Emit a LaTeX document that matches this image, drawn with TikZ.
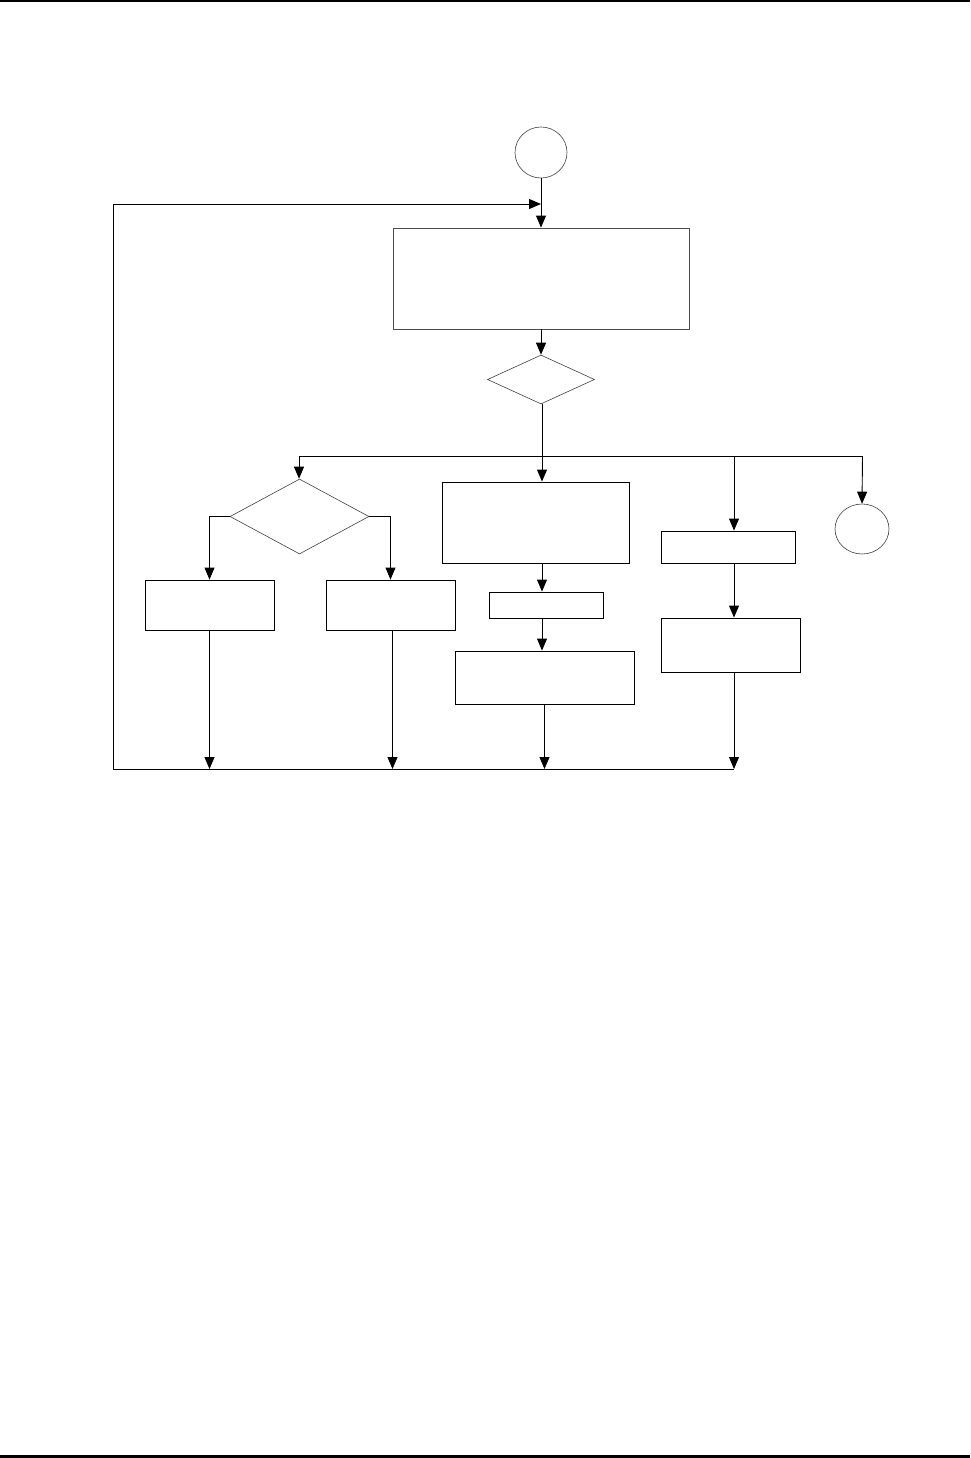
\documentclass[tikz,border=0pt]{standalone}
\usetikzlibrary{shapes.geometric,arrows.meta}
\begin{document}
\begin{tikzpicture}[x=1pt,y=-1pt,
  pbox/.style={draw=black,line width=0.9pt,rectangle,inner sep=0pt},
  gbox/.style={draw=black!70,line width=0.9pt,rectangle,inner sep=0pt},
  dia/.style={draw=black!75,line width=0.6pt,diamond,inner sep=0pt},
  term/.style={draw=black!75,line width=0.6pt,ellipse,inner sep=0pt},
  conn/.style={line width=0.9pt},
  arr/.style={conn,-{Triangle[length=12pt,width=10pt]}}]
\useasboundingbox (0,0) rectangle (970,1458);
\draw[line width=2pt] (0,1) -- (970,1);
\draw[line width=2.5pt] (0,1456.5) -- (970,1456.5);
% nodes
\node[term,minimum width=52pt,minimum height=51pt] (start) at (541,152.5) {};
\node[gbox,minimum width=296pt,minimum height=101pt] (big) at (541,278.5) {};
\node[dia,minimum width=107pt,minimum height=49pt] (d1) at (541,379.5) {};
\node[dia,minimum width=139pt,minimum height=75pt] (d2) at (299.5,516.5) {};
\node[pbox,minimum width=129pt,minimum height=50pt] (L1) at (209.5,605) {};
\node[pbox,minimum width=129pt,minimum height=50pt] (L2) at (390.5,605) {};
\node[pbox,minimum width=187pt,minimum height=81pt] (M1) at (535.5,522.5) {};
\node[pbox,minimum width=114pt,minimum height=26pt] (M2) at (546,605) {};
\node[pbox,minimum width=179pt,minimum height=53pt] (M3) at (544.5,677.5) {};
\node[pbox,minimum width=134pt,minimum height=32pt] (R1) at (728,547) {};
\node[pbox,minimum width=139pt,minimum height=54pt] (R2) at (730.5,645) {};
\node[term,minimum width=54pt,minimum height=50pt] (end) at (862,529) {};
% junction coordinates
\coordinate (merge) at (541,204);
\coordinate (bl) at (113,769);
\coordinate (br) at (734,769);
\coordinate (busL) at (299,456);
\coordinate (busC) at (542,456);
\coordinate (busM) at (734,456);
\coordinate (busR) at (862.5,456);
% connectors
\draw[arr] (start) -- (big);
\draw[arr] (br) -- (bl) |- (merge);
\draw[arr] (big) -- (d1);
\draw[conn] (busC |- d1.south) -- (busC);
\draw[conn] (busL) -- (busR);
\draw[arr] (busC) -- (busC |- M1.north);
\draw[arr] (busL) -- (busL |- d2.north);
\draw[arr] (busM) -- (busM |- R1.north);
\draw[arr] (busR) -- (end.north);
\draw[arr] (d2.west) -| (L1.north);
\draw[arr] (d2.east) -| (L2.north);
\draw[arr] (L1.south) -- (L1.south |- bl);
\draw[arr] ([xshift=2pt]L2.south) -- ([xshift=2pt]L2.south |- bl);
\draw[arr] (busC |- M1.south) -- (busC |- M2.north);
\draw[arr] (busC |- M2.south) -- (busC |- M3.north);
\draw[arr] (M3.south) -- (M3.south |- bl);
\draw[arr] (busM |- R1.south) -- (busM |- R2.north);
\draw[arr] (busM |- R2.south) -- (br);
\end{tikzpicture}
\end{document}
